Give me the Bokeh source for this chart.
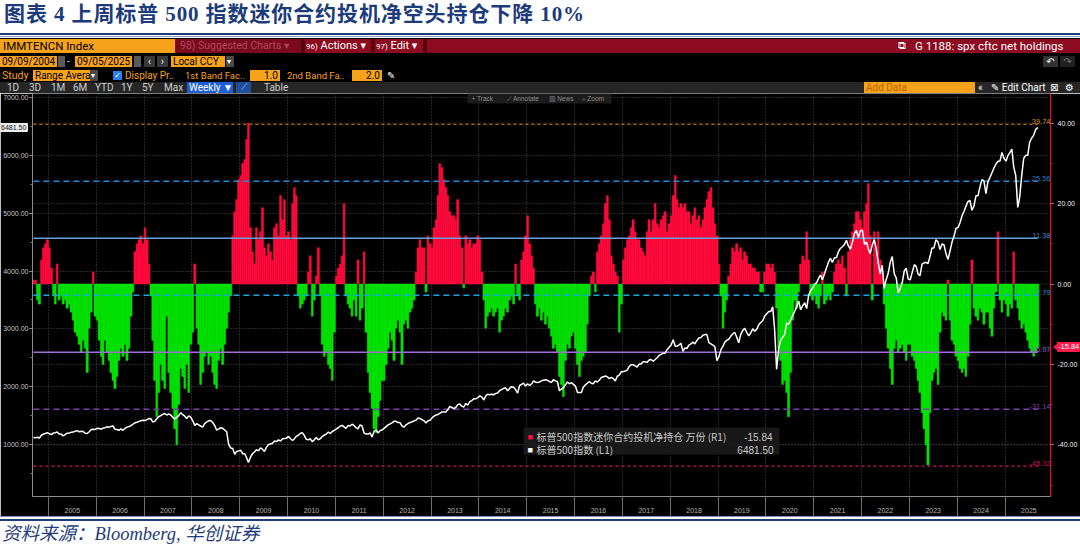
import numpy as np
import pandas as pd
from bokeh.plotting import figure
from bokeh.layouts import column
from bokeh.models import (ColumnDataSource, Range1d, LinearAxis, FixedTicker,
                          NumeralTickFormatter, DatetimeTickFormatter, Span,
                          Label, BoxAnnotation, Div)
from bokeh.embed import file_html
from bokeh.resources import INLINE

# ---------------------------------------------------------------------------
# Data: half-month buckets (1st-14th, 15th-end), Sep 2004 .. early Sep 2025
# ---------------------------------------------------------------------------
# speculative net position, E-mini S&P 500 (10k contracts, right axis)
net_position = [
    1, 1, -4, -5, 6, 9, 10, 11,
    9, 4, -3, -5, 5, -4, -3, -5, -4, -6, -5, -7, -9, -12, -13, -15, -17, -14, -16, -22, -11, -7, 3, -8,
    -9, -14, -18, -20, -14, -17, -19, -22, -24, -26, -23, -19, -16, -18, -15, -19, -16, -8, -2, 8, 10, 11, 12, 10,
    14, 11, 5, -3, -14, -24, -33, -27, -20, -24, -26, -8, -22, -27, -31, -36, -40, -30, -21, -23, -26, -20, -27, -15,
    -12, 5, -11, -15, -25, -22, -18, -17, -20, -18, -22, -25, -26, -19, -16, -20, -15, -11, -7, -3, 12, 18, 21, 26,
    27, 30, 31, 36, 40, 14, 8, 5, 14, 11, 13, 19, 9, 7, 10, 8, 6, 14, 15, 12, 22, 16, 21, 12,
    13, 11, 20, 24, 22, -3, -6, -5, -4, -3, 3, 7, -8, -4, 2, 9, -3, -15, -18, -17, -20, -21, -24, -12,
    2, 4, 5, 7, 20, -3, -5, -6, -8, -4, -8, 6, -9, -6, 8, -12, -22, -27, -31, -36, -37, -33, -29, -24,
    -24, -20, -16, -12, -14, -19, -11, -9, -12, -20, -10, -9, -11, -7, -6, -4, 3, 9, 11, 9, 9, -2, 12, 10,
    9, 14, 16, 22, 30, 29, 26, 24, 22, 18, 17, 17, 16, 21, 12, 9, -1, 12, 10, 11, 9, 10, 10, 12,
    11, 3, -4, -11, -8, -7, -6, -8, -7, -6, -12, -9, -8, -6, -7, -4, -3, -5, 5, -3, -4, 6, 8, 12,
    17, 10, 7, 4, -5, -8, -6, -9, -7, -10, -8, -11, -13, -16, -15, -17, -23, -25, -28, -19, -15, -16, -13, -12,
    -16, -20, -23, -19, -18, -17, -10, -3, 2, 3, -2, 8, 10, 12, 15, 20, 22, 16, 7, 5, 3, 2, -12, -5,
    6, 9, 11, 12, 14, 16, 13, 11, 11, 9, 8, 7, 13, 16, 13, 16, 20, 15, 14, 16, 17, 18, 13, 15,
    17, 22, 27, 21, 19, 20, 19, 20, 18, 18, 15, 17, 19, 16, 17, 14, 16, 19, 21, 23, 24, 19, 15, 12,
    5, -3, -11, -7, -4, 2, 5, 9, 8, 10, 8, 9, 6, 8, 7, 5, 5, 4, 4, 3, 3, -2, -2, 3,
    5, 5, 4, 5, 3, -6, -16, -19, -25, -24, -27, -33, -22, -9, -4, -6, -2, 5, 7, 6, 13, 6, -3, -4,
    -3, -5, -6, -3, 3, -5, -4, -3, -4, -2, 3, 5, 6, 5, 7, 4, -3, 8, 11, 13, 15, 18, 18, 16,
    14, 18, 20, 25, 12, -4, 13, 9, 13, 6, 3, -5, -11, -16, -21, -25, -16, -14, -17, -16, -15, -17, -19, -15,
    -15, -18, -19, -21, -24, -27, -32, -36, -40, -45, -32, -24, -22, -21, -25, -12, -7, -8, -9, 1, -9, -14, -15, -18,
    -19, -21, -22, -21, -23, -18, -10, 6, -6, -8, -9, -6, -7, -10, -7, -7, -11, -13, -6, -2, 13, -4, -7, -4,
    -5, -8, -5, -6, 8, -4, -6, -9, -11, -10, -12, -14, -16, -17, -18, -17, -15.84,
]

# S&P 500 index level (left axis)
spx_close = [
    1120, 1115, 1125, 1110, 1160, 1180, 1190, 1205,
    1185, 1170, 1200, 1205, 1215, 1180, 1180, 1150, 1170, 1195, 1200, 1210, 1215, 1230, 1240, 1220, 1230, 1225, 1195, 1190, 1220, 1260, 1265, 1260,
    1280, 1275, 1265, 1285, 1290, 1305, 1300, 1310, 1320, 1265, 1260, 1245, 1270, 1245, 1280, 1300, 1310, 1325, 1350, 1375, 1385, 1400, 1410, 1420,
    1415, 1430, 1450, 1445, 1390, 1400, 1445, 1480, 1500, 1520, 1535, 1510, 1530, 1510, 1470, 1445, 1470, 1500, 1550, 1515, 1490, 1450, 1495, 1475,
    1410, 1330, 1360, 1340, 1320, 1300, 1360, 1390, 1410, 1415, 1380, 1330, 1250, 1265, 1290, 1280, 1250, 1220, 1000, 940, 930, 830, 880, 890,
    900, 840, 840, 770, 690, 780, 840, 870, 910, 890, 940, 920, 880, 950, 1000, 1010, 1020, 1060, 1050, 1080, 1060, 1100, 1105, 1110,
    1140, 1100, 1070, 1100, 1140, 1160, 1190, 1205, 1160, 1090, 1080, 1100, 1050, 1080, 1120, 1080, 1100, 1140, 1160, 1180, 1215, 1190, 1225, 1245,
    1270, 1290, 1320, 1330, 1305, 1280, 1330, 1320, 1350, 1330, 1290, 1270, 1340, 1320, 1200, 1180, 1180, 1200, 1130, 1230, 1250, 1200, 1240, 1250,
    1280, 1310, 1340, 1355, 1375, 1400, 1400, 1380, 1380, 1320, 1300, 1340, 1360, 1380, 1390, 1410, 1420, 1460, 1450, 1430, 1410, 1370, 1410, 1420,
    1460, 1490, 1510, 1520, 1540, 1560, 1560, 1560, 1600, 1660, 1640, 1620, 1640, 1690, 1700, 1660, 1650, 1710, 1680, 1740, 1760, 1790, 1790, 1810,
    1840, 1820, 1770, 1840, 1870, 1860, 1870, 1860, 1880, 1890, 1930, 1950, 1970, 1980, 1930, 1970, 2000, 1990, 1950, 1890, 2020, 2040, 2060, 2010,
    2050, 2020, 2050, 2100, 2080, 2070, 2080, 2100, 2110, 2120, 2110, 2090, 2070, 2120, 2100, 2090, 1930, 1960, 1980, 2030, 2080, 2050, 2070, 2040,
    2010, 1900, 1900, 1900, 1990, 2030, 2060, 2090, 2060, 2050, 2100, 2080, 2110, 2160, 2170, 2185, 2170, 2140, 2160, 2140, 2100, 2180, 2200, 2260,
    2260, 2270, 2290, 2350, 2380, 2380, 2360, 2340, 2390, 2390, 2430, 2430, 2420, 2460, 2470, 2440, 2470, 2500, 2540, 2560, 2580, 2580, 2640, 2680,
    2720, 2810, 2700, 2700, 2720, 2750, 2610, 2670, 2660, 2720, 2740, 2770, 2740, 2800, 2840, 2850, 2890, 2900, 2900, 2760, 2740, 2720, 2690, 2450,
    2520, 2640, 2700, 2770, 2800, 2820, 2870, 2910, 2940, 2860, 2760, 2900, 2970, 3010, 2940, 2880, 2930, 3000, 2960, 2990, 3070, 3110, 3140, 3220,
    3260, 3300, 3300, 3380, 3000, 2300, 2650, 2800, 2850, 2900, 3100, 3080, 3150, 3230, 3300, 3380, 3480, 3330, 3400, 3450, 3350, 3580, 3660, 3700,
    3770, 3800, 3880, 3930, 3850, 3950, 4050, 4150, 4220, 4150, 4230, 4230, 4330, 4390, 4420, 4460, 4530, 4430, 4380, 4500, 4650, 4700, 4580, 4700,
    4700, 4460, 4500, 4380, 4300, 4450, 4540, 4390, 4150, 3950, 4100, 3700, 3850, 3960, 4150, 4250, 3950, 3880, 3620, 3700, 3800, 4000, 4050, 3860,
    3850, 3980, 4110, 4080, 3950, 3920, 4120, 4140, 4150, 4130, 4250, 4400, 4400, 4540, 4500, 4370, 4470, 4450, 4300, 4200, 4350, 4500, 4600, 4740,
    4750, 4840, 4960, 5030, 5120, 5200, 5220, 5050, 5120, 5300, 5300, 5450, 5580, 5560, 5340, 5550, 5620, 5700, 5780, 5850, 5900, 5900, 6050, 5950,
    5900, 6000, 6050, 6110, 5800, 5650, 5100, 5280, 5650, 5950, 6000, 6000, 6230, 6300, 6350, 6450, 6481.5,
]

band_levels = [39.74, 25.56, 11.38, -2.79, -16.97, -31.14, -45.32]
year_labels = list(range(2005, 2026))
left_ticks = [1000, 2000, 3000, 4000, 5000, 6000, 7000]
right_ticks = [-40, -20, 0, 20, 40]

title_text = "图表 4 上周标普 500 指数迷你合约投机净空头持仓下降 10%"
source_text = "资料来源：Bloomberg, 华创证券"
net_name = "标普500指数迷你合约投机净持仓 万份 (R1)"
spx_name = "标普500指数 (L1)"

# ---------------------------------------------------------------------------
# Styling / geometry
# ---------------------------------------------------------------------------
RED = "#ff0a3c"
GREEN = "#00e400"
ORANGE = "#f7a21b"
NAVY = "#1f3d7a"
band_styles = [
    ("#e38b00", "3 3", 1.2),
    ("#1f8ad8", "6 4", 1.4),
    ("#6aa0da", "solid", 1.4),
    ("#16a6e0", "6 4", 1.4),
    ("#a46ad8", "solid", 1.4),
    ("#8040b0", "6 4", 1.4),
    ("#d4106c", "3 3", 1.2),
]
band_text_colors = ["#d58a1a", "#2a7cc4", "#4a82c4", "#1a9ad0", "#9464c4", "#7a44a4", "#c4105e"]

HEADER_H = 93                    # page y where the plot frame starts
FIG_H = 423                      # figure height (frame + x-axis band)
FOOTER_H = 546 - HEADER_H - FIG_H
FRAME_BOTTOM = 496               # page y of the x-axis line
FRAME_LEFT = 30
LEFT_RANGE = (100.8, 7069.5)
NET_RANGE = (-52.86, 47.39)


def ms(ts):
    return pd.Timestamp(ts).value / 1e6


starts = pd.date_range("2004-09-01", periods=len(net_position), freq="SMS")
ends = starts[1:].append(pd.DatetimeIndex([starts[-1] + pd.Timedelta(days=15)]))
centers = starts + (ends - starts) / 2
widths = np.asarray((ends - starts).total_seconds(), dtype=float) * 1000.0

src = ColumnDataSource(dict(
    x=centers, w=widths, net=net_position, spx=spx_close,
    color=[RED if v >= 0 else GREEN for v in net_position],
))

p = figure(width=1080, height=FIG_H, x_axis_type="datetime",
           x_range=Range1d(pd.Timestamp("2004-09-01"), pd.Timestamp("2025-12-14")),
           y_range=Range1d(*LEFT_RANGE),
           output_backend="svg", toolbar_location=None, title_location=None,
           min_border_left=FRAME_LEFT, min_border_right=27, min_border_top=0,
           min_border_bottom=HEADER_H + FIG_H - FRAME_BOTTOM,
           background_fill_color="#000000", border_fill_color="#000000",
           outline_line_color=None)
p.extra_y_ranges = {"net": Range1d(*NET_RANGE)}

# --- x axis: year labels mid-year, separators at year boundaries
xa = p.xaxis[0]
xa.ticker = FixedTicker(ticks=[ms(f"{y}-07-02") for y in year_labels],
                        minor_ticks=[ms(f"{y}-01-01") for y in year_labels])
xa.formatter = DatetimeTickFormatter(years="%Y", months="%Y", days="%Y")
xa.major_tick_out = 0
xa.major_tick_in = 0
xa.minor_tick_out = 20
xa.minor_tick_in = 0
xa.minor_tick_line_color = "#6e6e6e"
xa.axis_line_color = "#8c8c8c"
xa.major_label_text_color = "#b5b5b5"
xa.major_label_text_font = "Liberation Sans"
xa.major_label_text_font_size = "7px"
xa.major_label_standoff = -9

# --- left axis (S&P 500)
la = p.yaxis[0]
la.ticker = FixedTicker(ticks=left_ticks, minor_ticks=list(range(500, 7001, 500)))
la.formatter = NumeralTickFormatter(format="0.00")
la.axis_line_color = "#8c8c8c"
la.major_tick_out = 3
la.major_tick_in = 0
la.minor_tick_out = 2
la.minor_tick_in = 0
la.major_tick_line_color = "#c8c8c8"
la.minor_tick_line_color = "#7a7a7a"
la.major_label_text_color = "#c4c4c4"
la.major_label_text_font = "Liberation Sans"
la.major_label_text_font_size = "7px"
la.major_label_standoff = 1

# --- right axis (net position)
ra = LinearAxis(y_range_name="net",
                ticker=FixedTicker(ticks=right_ticks, minor_ticks=list(range(-50, 41, 10))),
                formatter=NumeralTickFormatter(format="0.00"))
ra.axis_line_color = "#e0102f"
ra.axis_line_width = 1.2
ra.major_tick_out = 3
ra.major_tick_in = 0
ra.minor_tick_out = 2
ra.minor_tick_in = 0
ra.major_tick_line_color = "#f0f0f0"
ra.minor_tick_line_color = "#e0102f"
ra.major_label_text_color = "#eeeeee"
ra.major_label_text_font = "Liberation Sans"
ra.major_label_text_font_size = "7px"
ra.major_label_standoff = 4
p.add_layout(ra, "right")

# --- grids
p.xgrid.ticker = FixedTicker(ticks=[ms(f"{y}-01-01") for y in year_labels])
p.xgrid.grid_line_color = "#4e4e4e"
p.xgrid.grid_line_dash = "1 2"
p.ygrid.ticker = FixedTicker(ticks=left_ticks)
p.ygrid.grid_line_color = "#4e4e4e"
p.ygrid.grid_line_dash = "1 2"
for t in right_ticks:
    p.add_layout(Span(location=t, dimension="width", y_range_name="net",
                      line_color="#4e4e4e", line_dash="1 2", line_width=1,
                      level="underlay"))

# --- net position bars
p.vbar(x="x", width="w", top="net", bottom=0, source=src, y_range_name="net",
       fill_color="color", line_color="color", line_width=0.5)

# --- band lines with their value labels
x_first, x_last = centers[0], centers[-1]
for lvl, (col, dash, lw), tcol in zip(band_levels, band_styles, band_text_colors):
    p.segment(x0=[x_first], x1=[x_last], y0=[lvl], y1=[lvl], y_range_name="net",
              line_color=col, line_dash=dash, line_width=lw)
    p.add_layout(Label(x=1018, x_units="screen", y=lvl, y_range_name="net",
                       text=f"{lvl:.2f}", text_align="right", text_baseline="bottom",
                       text_font="Liberation Sans", text_font_size="7.5px",
                       text_color=tcol))

# --- S&P 500 line
p.line(x="x", y="spx", source=src, line_color="#ffffff", line_width=1.5)


# ---------------------------------------------------------------------------
# In-frame overlays: page pixel -> frame offset helpers
# ---------------------------------------------------------------------------
def fx(px):
    return px - FRAME_LEFT


def fy(py):
    return FRAME_BOTTOM - py


def lab(px, py, text, size="7px", color="#cccccc", font="Liberation Sans",
        align="left", baseline="middle"):
    return Label(x=fx(px), y=fy(py), x_units="screen", y_units="screen", text=text,
                 text_font_size=size, text_color=color, text_font=font,
                 text_align=align, text_baseline=baseline)


def sbox(l, t, r, b, color, alpha=1.0):
    return BoxAnnotation(left=fx(l), right=fx(r), top=fy(t), bottom=fy(b),
                         left_units="screen", right_units="screen",
                         top_units="screen", bottom_units="screen",
                         fill_color=color, fill_alpha=alpha, line_color=None,
                         level="annotation")


# top mini toolbar
p.add_layout(sbox(465, 93, 609, 103, "#1c1c1c"))
for px, txt in [(469, "+ Track"), (504, "⟋ Annotate"), (546, "▥ News"), (579, "⌕ Zoom")]:
    p.add_layout(lab(px, 98, txt, size="6.5px", color="#8e8e8e"))

# legend
p.add_layout(sbox(521, 427, 777, 454, "#1a1a1a", 0.92))
p.add_layout(lab(525, 436, "■", size="9px", color=RED))
p.add_layout(lab(525, 449, "■", size="9px", color="#ffffff"))
p.add_layout(lab(534, 436, net_name, size="10px", color="#c9c9c9", font="Noto Sans CJK SC"))
p.add_layout(lab(534, 449, spx_name, size="10px", color="#c9c9c9", font="Noto Sans CJK SC"))
p.add_layout(lab(770, 436, f"{net_position[-1]:.2f}", size="10px", color="#c9c9c9", align="right"))
p.add_layout(lab(771, 449, f"{spx_close[-1]:.2f}", size="10px", color="#c9c9c9", align="right"))

# ---------------------------------------------------------------------------
# Header (report title + terminal toolbar rows) and footer
# ---------------------------------------------------------------------------
UI = "Roboto, 'Liberation Sans', 'DejaVu Sans', sans-serif"
SERIF = "'Liberation Serif', 'Noto Sans CJK SC', serif"


def box(l, t, w, h, text="", bg="transparent", fg="#000", fs=11, align="left",
        pad=2, font=UI, weight="normal", extra=""):
    return (f'<div style="position:absolute;left:{l}px;top:{t}px;width:{w}px;height:{h}px;'
            f'background:{bg};color:{fg};font-family:{font};font-size:{fs}px;'
            f'font-weight:{weight};line-height:{h}px;text-align:{align};'
            f'padding:0 {pad}px;box-sizing:border-box;white-space:nowrap;{extra}">{text}</div>')


hdr = [
    box(0, 0, 1080, HEADER_H, bg="#ffffff"),
    box(4, 0, 800, 28, title_text, fg="#1c3b7a", fs=21, font=SERIF, weight="bold", pad=0,
        extra="letter-spacing:0.9px;"),
    box(0, 33, 1080, 2, bg=NAVY),
    box(0, 36, 1080, 1, bg="#8fa3cc"),
    box(0, 38, 1080, HEADER_H - 38, bg="#000000"),
    # row 1
    box(0, 39, 175, 14, "IMMTENCN Index", bg=ORANGE, fs=11.5, pad=3),
    box(175, 39, 905, 14, bg="#8c0b20"),
    box(176, 39, 125, 14, "98) Suggested Charts ▾", bg="#7c0a1d", fg="#b0475a", fs=10.5, pad=4),
    box(301, 39, 1, 14, bg="#55040f"),
    box(304, 39, 67, 14, "<span style='font-size:8px'>96)</span> Actions ▾", fg="#ffffff", fs=11),
    box(371, 39, 1, 14, bg="#55040f"),
    box(374, 39, 49, 14, "<span style='font-size:8px'>97)</span> Edit ▾", fg="#ffffff", fs=11),
    box(423, 39, 1, 14, bg="#55040f"),
    box(896, 39, 16, 14, "⧉", fg="#ffffff", fs=11),
    box(913, 39, 167, 14, "G 1188: spx cftc net holdings", fg="#ffffff", fs=11.5),
    # row 2
    box(0, 56, 57, 11, "09/09/2004", bg=ORANGE, fs=10),
    box(58, 56, 7, 11, bg="#5a5a5a"),
    box(66, 56, 8, 11, "-", fg="#dddddd", fs=10, pad=1),
    box(75, 56, 57, 11, "09/05/2025", bg=ORANGE, fs=10),
    box(134, 56, 7, 11, bg="#5a5a5a"),
    box(144, 56, 11, 11, "‹", bg="#3a3a3a", fg="#eeeeee", fs=11, align="center", pad=0),
    box(157, 56, 11, 11, "›", bg="#3a3a3a", fg="#eeeeee", fs=11, align="center", pad=0),
    box(171, 56, 54, 11, "Local CCY", bg=ORANGE, fs=10),
    box(226, 56, 8, 11, "▾", bg="#4a4a4a", fg="#ffffff", fs=8, pad=1),
    box(1043, 56, 15, 11, "↶", bg="#333333", fg="#ffffff", fs=10, align="center", pad=0),
    box(1060, 56, 15, 11, "↷", bg="#222222", fg="#777777", fs=10, align="center", pad=0),
    # row 3
    box(1, 70, 32, 11, "Study", fg=ORANGE, fs=10.5, pad=1),
    box(33, 70, 57, 11, "Range Avera", bg=ORANGE, fs=10),
    box(90, 70, 8, 11, "▾", bg="#4a4a4a", fg="#ffffff", fs=8, pad=1),
    box(113, 71, 9, 9, "✓", bg="#2b7de9", fg="#ffffff", fs=8, align="center", pad=0),
    box(123, 70, 60, 11, "Display Pr..", fg=ORANGE, fs=10),
    box(184, 70, 66, 11, "1st Band Fac..", fg=ORANGE, fs=9.5, pad=1),
    box(250, 70, 30, 11, "1.0", bg=ORANGE, fs=10, align="right"),
    box(286, 70, 65, 11, "2nd Band Fa..", fg=ORANGE, fs=9.5, pad=1),
    box(352, 70, 30, 11, "2.0", bg=ORANGE, fs=10, align="right"),
    box(387, 70, 12, 11, "✎", fg="#ffffff", fs=10, pad=0),
    # row 4
    box(0, 82, 1080, 11, bg="#262626"),
    box(187, 82, 46, 11, "Weekly ▼", bg="#1e5fd6", fg="#ffffff", fs=10),
    box(236, 82, 15, 11, "⟋", bg="#1d4f9c", fg="#9cc3ff", fs=9, align="center", pad=0),
    box(262, 82, 32, 11, "Table", fg="#d0d0d0", fs=10),
    box(864, 82, 111, 11, "Add Data", bg=ORANGE, fg="#b86400", fs=10),
    box(978, 82, 12, 11, "«", fg="#ffffff", fs=10, pad=0),
    box(991, 82, 58, 11, "✎ Edit Chart", fg="#ffffff", fs=10, pad=0),
    box(1050, 82, 12, 11, "⊠", fg="#ffffff", fs=10, pad=0),
    box(1065, 82, 12, 11, "⚙", fg="#ffffff", fs=10, pad=0),
]
for px, txt in [(6, "1D"), (28, "3D"), (50, "1M"), (72, "6M"), (94, "YTD"),
                (120, "1Y"), (141, "5Y"), (163, "Max")]:
    hdr.append(box(px, 82, 24, 11, txt, fg="#d0d0d0", fs=10, pad=1))

header = Div(text=(f'<div style="position:relative;width:1080px;height:{HEADER_H}px;overflow:hidden;">'
                   + "".join(hdr) + "</div>"),
             width=1080, height=HEADER_H, margin=0)


# last-value tags sitting on the two value axes (outside the plot frame);
# their vertical position follows the same linear mapping as the axes
def page_y(value, rng):
    lo, hi = rng
    return HEADER_H + (hi - value) / (hi - lo) * (FRAME_BOTTOM - HEADER_H)


foot_top = HEADER_H + FIG_H
spx_tag_y = page_y(spx_close[-1], LEFT_RANGE) - foot_top
net_tag_y = page_y(net_position[-1], NET_RANGE) - foot_top

ftr = [
    box(0, 0, 1080, FOOTER_H, bg="#ffffff"),
    box(0, 0, 1080, 1, bg="#7c90bd"),
    box(0, 3, 1080, 2, bg=NAVY),
    box(2, 7, 600, 23, source_text, fg=NAVY, fs=18.5, font=SERIF, pad=0,
        extra="font-style:italic;"),
    box(0, round(spx_tag_y - 4.5), 28, 9, f"{spx_close[-1]:.2f}", bg="#ececec", fg="#111111",
        fs=7, pad=1, font="'Liberation Sans', sans-serif",
        extra="border-radius:1px;z-index:20;"),
    box(1057, round(net_tag_y - 5), 23, 10, f"{net_position[-1]:.2f}", bg="#ff1a4b",
        fg="#ffffff", fs=7.5, pad=1, font="'Liberation Sans', sans-serif",
        extra="border-radius:1px;z-index:20;"),
    box(1053, round(net_tag_y - 3), 4, 6, "", bg="#ff1a4b",
        extra="clip-path:polygon(100% 0,0 50%,100% 100%);z-index:20;"),
]
footer = Div(text=(f'<div style="position:relative;width:1080px;height:{FOOTER_H}px;overflow:visible;">'
                   + "".join(ftr) + "</div>"),
             width=1080, height=FOOTER_H, margin=0, styles={"overflow": "visible", "z-index": "10"})

layout = column(header, p, footer, spacing=0)
open("out.html", "w").write(file_html(layout, INLINE, "S&P 500 E-mini net positioning"))
